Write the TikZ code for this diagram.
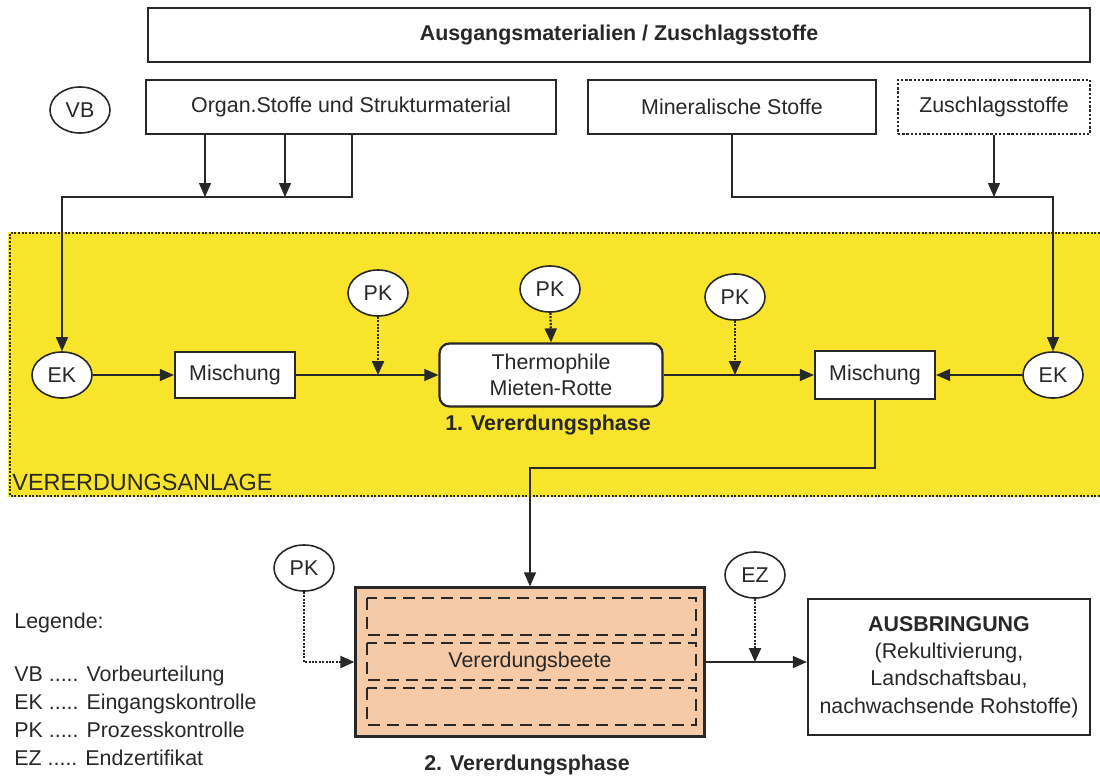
\documentclass[tikz,border=0pt]{standalone}
\usepackage{fontspec}
\setmainfont{Liberation Sans}
\usetikzlibrary{arrows.meta,shapes.geometric,calc}
\definecolor{ink}{RGB}{40,40,40}
\definecolor{gelb}{RGB}{248,228,42}
\definecolor{peach}{RGB}{246,202,166}
\newcommand{\nsz}{\fontsize{10.7}{13}\selectfont}
\begin{document}
\begin{tikzpicture}[x=0.5pt,y=-0.5pt,
  every node/.style={text=ink},
  box/.style={draw=ink, line width=1.1pt, fill=white, inner sep=2pt, font=\nsz},
  oval/.style={ellipse, draw=ink, line width=0.8pt, fill=white, minimum width=30pt, minimum height=23pt, inner sep=0pt, font=\nsz},
  arr/.style={draw=ink, line width=0.6pt, -{Triangle[length=7pt,width=6pt]}},
  darr/.style={arr, line width=1.1pt, dash pattern=on 1pt off 0.7pt},
  plain/.style={draw=ink, line width=0.6pt},
  inner/.style={draw=ink, line width=1.3pt, dash pattern=on 6pt off 3.5pt}
]
\useasboundingbox (0,0) rectangle (1100,778);
% yellow area
\fill[gelb] (8,232) rectangle (1100,497);
\draw[ink, line width=1.4pt, dash pattern=on 1pt off 0.8pt] (1100,233) -- (10,233) -- (10,496) -- (1100,496);
\node[anchor=base west, inner sep=0pt, font=\fontsize{11.7}{14}\selectfont] (anlage) at (12,490) {VERERDUNGSANLAGE};

% top boxes
\node[box, minimum width=471pt, minimum height=27pt, font=\nsz\bfseries] (top) at (619,35) {Ausgangsmaterialien / Zuschlagsstoffe};
\node[box, minimum width=205pt, minimum height=27pt] (organ) at (351,107) {Organ.Stoffe und Strukturmaterial};
\node[box, minimum width=144pt, minimum height=27pt] (mineral) at (732,107) {Mineralische Stoffe};
\node[box, minimum width=96pt, minimum height=27pt, dash pattern=on 1.2pt off 0.9pt] (zuschlag) at (994,107) {Zuschlagsstoffe};
\node[oval] (vb) at (80,110) {VB};

% phase 1
\node[oval] (ek1) at (62,375) {EK};
\node[box, minimum width=60pt, minimum height=23pt] (misch1) at (235,375) {Mischung};
\node[box, minimum width=111.5pt, minimum height=31.5pt, rounded corners=5pt, align=center, font=\nsz\linespread{1}\selectfont] (thermo) at (551,375) {Thermophile\\Mieten-Rotte};
\node[box, minimum width=60pt, minimum height=24pt] (misch2) at (875,375) {Mischung};
\node[oval] (ek2) at (1053,375) {EK};
\node[oval] (pk1) at (378,293) {PK};
\node[oval] (pk2) at (550,289) {PK};
\node[oval] (pk3) at (735,297) {PK};
\node[font=\nsz\bfseries] (ph1) at (548,425) {1. Vererdungsphase};

% junction coordinates
\coordinate (a1) at (205,197);
\coordinate (a2) at (285,197);
\coordinate (h1) at (352,197);
\coordinate (h2) at (1053,197);
\coordinate (h3) at (530,468);

% phase 2
\node[draw=ink, line width=1.1pt, fill=peach, minimum width=174.5pt, minimum height=74.5pt] (beete) at (530,662) {};
\draw[inner] (367,598) rectangle (696,635);
\draw[inner] (367,643) rectangle (696,680);
\draw[inner] (367,688) rectangle (696,725);
\node[font=\nsz] (beetetext) at (530,662) {Vererdungsbeete};
\node[font=\nsz\bfseries] (ph2) at (527,765) {2. Vererdungsphase};
\node[oval] (pk4) at (304,568) {PK};
\node[oval] (ez) at (755,575) {EZ};
\node[box, minimum width=141pt, minimum height=68pt, align=center, font=\nsz\linespread{1.05}\selectfont] (ausbr) at (949,667) {\textbf{AUSBRINGUNG}\\(Rekultivierung,\\Landschaftsbau,\\nachwachsende Rohstoffe)};

% legend
\node[anchor=base west, inner sep=0pt, font=\nsz] (leg) at (14,628) {Legende:};
\node[anchor=north west, align=left, font=\nsz\linespread{1.07}\selectfont, inner sep=0pt] (legitems) at (14,666) {VB ..... Vorbeurteilung\\EK ..... Eingangskontrolle\\PK ..... Prozesskontrolle\\EZ ..... Endzertifikat};

% connectors top
\draw[arr] (organ.south -| a1) -- (a1);
\draw[arr] (organ.south -| a2) -- (a2);
\draw[arr] (organ.south -| h1) -- (h1) -| (ek1.north);
\draw[arr] (mineral.south) |- (h2) -- (ek2.north);
\draw[arr] (zuschlag.south) -- (zuschlag.south |- h2);

% phase 1 connectors
\draw[arr] (ek1) -- (misch1);
\draw[arr] (misch1.east) -- (misch1.east -| thermo.west);
\draw[darr] (pk1) -- (pk1 |- misch1.east);
\draw[darr] (pk2) -- (thermo.north);
\draw[arr] (thermo.east) -- (thermo.east -| misch2.west);
\draw[darr] (pk3) -- (pk3 |- thermo.east);
\draw[arr] (ek2.west) -- (ek2.west -| misch2.east);
\draw[arr] (misch2.south) |- (h3) -- (beete.north);

% phase 2 connectors
\draw[darr] (pk4) |- (beete.west);
\draw[arr] (beete.east) -- (beete.east -| ausbr.west);
\draw[darr] (ez) -- (ez |- beete.east);
\end{tikzpicture}
\end{document}
